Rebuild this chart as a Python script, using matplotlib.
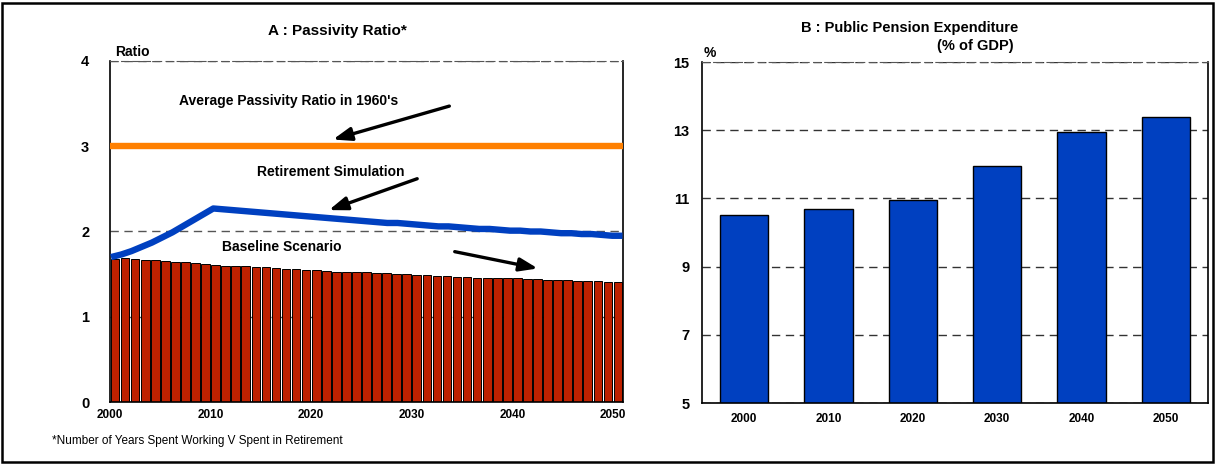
import numpy as np
import matplotlib.pyplot as plt
from matplotlib.patches import Rectangle

plt.rcParams['font.family'] = ['Liberation Sans', 'DejaVu Sans']

# Panel A: passivity ratio, yearly 2001-2051
years = list(range(2001, 2052))
baseline = [1.68, 1.69, 1.68, 1.67, 1.66, 1.65, 1.64, 1.64, 1.63, 1.62,
            1.61, 1.60, 1.60, 1.59, 1.58, 1.58, 1.57, 1.56, 1.56, 1.55,
            1.55, 1.54, 1.53, 1.53, 1.52, 1.52, 1.51, 1.51, 1.50, 1.50,
            1.49, 1.49, 1.48, 1.48, 1.47, 1.47, 1.46, 1.46, 1.45, 1.45,
            1.45, 1.44, 1.44, 1.43, 1.43, 1.43, 1.42, 1.42, 1.42, 1.41,
            1.41]
retirement = [1.70, 1.73, 1.77, 1.82, 1.87, 1.93, 1.99, 2.06, 2.13, 2.20,
              2.27, 2.26, 2.25, 2.24, 2.23, 2.22, 2.21, 2.20, 2.19, 2.18,
              2.17, 2.16, 2.15, 2.14, 2.13, 2.12, 2.11, 2.10, 2.10, 2.09,
              2.08, 2.07, 2.06, 2.06, 2.05, 2.04, 2.03, 2.03, 2.02, 2.01,
              2.01, 2.00, 2.00, 1.99, 1.98, 1.98, 1.97, 1.97, 1.96, 1.95,
              1.95]
ratio_1960s = 3.0

# Panel B: public pension expenditure, % of GDP
decades = ['2000', '2010', '2020', '2030', '2040', '2050']
pension = [10.5, 10.7, 10.95, 11.95, 12.95, 13.4]

red = '#BF2100'
blue = '#0040C0'
orange = '#FF8000'
dash = (0, (6, 4))

fig = plt.figure(figsize=(12.17, 4.65), dpi=100)

# ---------------- Panel A ----------------
ax1 = fig.add_axes([110 / 1217, 63 / 465, 513 / 1217, 341 / 465])
x = np.array(years) - 0.5
ax1.bar(x, baseline, width=0.86, color=red, edgecolor='black', linewidth=0.7, zorder=2)
# line spans the full width of the plot area
xl = np.linspace(2000.1, 2050.95, len(years))
ax1.plot(xl, retirement, color=blue, linewidth=4.6, solid_capstyle='butt', zorder=4)
ax1.axhline(ratio_1960s, color=orange, linewidth=4.6, zorder=3)
ax1.set_xlim(2000, 2051)
ax1.set_ylim(0, 4)
ax1.set_yticks([0, 1, 2, 3, 4])
ax1.set_xticks([2000, 2010, 2020, 2030, 2040, 2050])
ax1.grid(axis='y', linestyle=dash, color='#555555', linewidth=1.0, zorder=1)
ax1.set_axisbelow(True)
ax1.tick_params(axis='y', length=0, pad=15, labelsize=10.5)
ax1.tick_params(axis='x', length=0, pad=5, labelsize=8.5)
for lab in ax1.get_xticklabels() + ax1.get_yticklabels():
    lab.set_fontweight('bold')
ax1.spines['top'].set_linestyle(dash)
ax1.spines['top'].set_color('#555555')
for s in ['left', 'right', 'bottom']:
    ax1.spines[s].set_linewidth(1.2)

ax1.text(2017.8, 3.53, "Average Passivity Ratio in 1960's", ha='center', va='center',
         fontsize=10, fontweight='bold')
ax1.text(2021.9, 2.70, 'Retirement Simulation', ha='center', va='center',
         fontsize=10, fontweight='bold')
ax1.text(2017.1, 1.82, 'Baseline Scenario', ha='center', va='center',
         fontsize=10, fontweight='bold')
arrow = dict(arrowstyle='-|>,head_length=1.1,head_width=0.4', color='black', lw=2.4)
ax1.annotate('', xy=(2021.9, 3.07), xytext=(2034.0, 3.48), arrowprops=arrow)
ax1.annotate('', xy=(2021.5, 2.24), xytext=(2030.8, 2.63), arrowprops=arrow)
ax1.annotate('', xy=(2042.8, 1.56), xytext=(2034.0, 1.77), arrowprops=arrow)

ax1.text(0.043, 1.006, 'Ratio', transform=ax1.transAxes, ha='center', va='bottom',
         fontsize=10, fontweight='bold')
fig.text(337 / 1217, 1 - 31 / 465, 'A : Passivity Ratio*', ha='center', va='center',
         fontsize=11, fontweight='bold')

# ---------------- Panel B ----------------
ax2 = fig.add_axes([702 / 1217, 62 / 465, 506 / 1217, 341 / 465])
pos = np.arange(len(decades))
ax2.bar(pos, pension, width=0.57, color=blue, edgecolor='black', linewidth=1.0, zorder=2)
ax2.set_xlim(-0.5, len(decades) - 0.5)
ax2.set_ylim(5, 15)
ax2.set_yticks([5, 7, 9, 11, 13, 15])
ax2.set_xticks(pos)
ax2.set_xticklabels(decades)
ax2.grid(axis='y', linestyle=dash, color='#333333', linewidth=1.0, zorder=1)
ax2.set_axisbelow(True)
ax2.tick_params(axis='y', length=0, pad=9, labelsize=10.5)
ax2.tick_params(axis='x', length=0, pad=7, labelsize=8.5)
for lab in ax2.get_xticklabels() + ax2.get_yticklabels():
    lab.set_fontweight('bold')
ax2.spines['top'].set_linestyle(dash)
ax2.spines['top'].set_color('#555555')
for s in ['left', 'right', 'bottom']:
    ax2.spines[s].set_linewidth(1.2)

ax2.text(0.016, 1.006, '%', transform=ax2.transAxes, ha='center', va='bottom',
         fontsize=10, fontweight='bold')
fig.text(910 / 1217, 1 - 28 / 465, 'B : Public Pension Expenditure', ha='center',
         va='center', fontsize=10.5, fontweight='bold')
fig.text(975 / 1217, 1 - 46 / 465, '(% of GDP)', ha='center', va='center',
         fontsize=10.5, fontweight='bold')

# footnote and outer frame
fig.text(52 / 1217, 1 - 441 / 465, '*Number of Years Spent Working V Spent in Retirement',
         ha='left', va='center', fontsize=8.5)
fig.add_artist(Rectangle((2 / 1217, 3 / 465), 1211 / 1217, 459 / 465,
                         transform=fig.transFigure, fill=False, edgecolor='black',
                         linewidth=1.8))

fig.savefig('out.png', dpi=100)
